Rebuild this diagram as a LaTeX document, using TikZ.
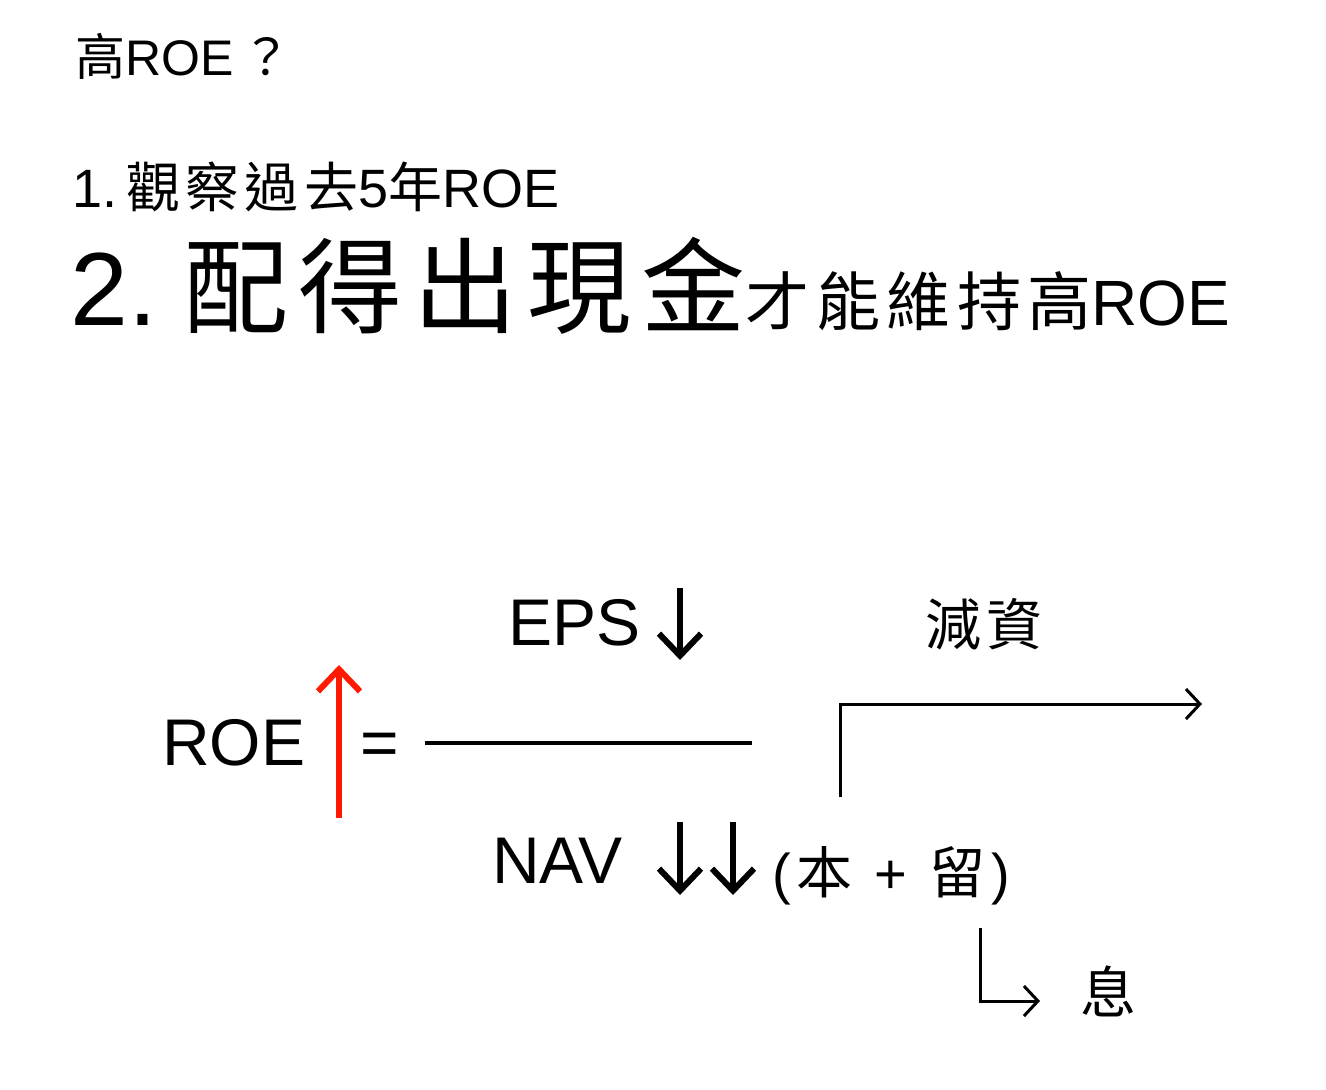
\documentclass[tikz,border=0pt]{standalone}
\usepackage{fontspec}
\setmainfont{Liberation Sans}
\newfontfamily\cjk{Noto Sans CJK TC}
\newfontfamily\cjkw{Noto Sans CJK TC}[LetterSpace=10]
\usetikzlibrary{arrows.meta}
\begin{document}
\begin{tikzpicture}[x=1pt,y=-1pt,
  txt/.style={inner sep=0pt,anchor=base west},
  arr/.style={line width=6pt,-{Straight Barb[length=22pt,width=42pt,line width=6pt]}},
  conn/.style={line width=3pt,-{Straight Barb[length=14pt,width=30pt,line width=3pt]}}]
\useasboundingbox (0,0) rectangle (1326,1090);
\node[txt] (t0) at (75,75) {\fontsize{50}{50}\selectfont{\cjk 高}ROE\,{\cjk ？}};
\node[txt] (t1) at (72,207) {\fontsize{54}{54}\selectfont 1.\,{\cjkw 觀察過去}5{\cjk 年}ROE};
\node[txt] (t2) at (70,325) {\fontsize{104}{104}\selectfont 2.\,\hspace{10pt}{\cjkw 配得出現金}\fontsize{64}{64}\selectfont{\cjkw 才能維持高}ROE};
\node[txt] (eps) at (508,645) {\fontsize{66}{66}\selectfont EPS};
\node[txt] (jz) at (925,645) {\fontsize{56}{56}\selectfont\cjkw 減資};
\node[txt] (roe) at (162,765) {\fontsize{66}{66}\selectfont ROE};
\node[txt] (eq) at (360,765) {\fontsize{66}{66}\selectfont =};
\node[txt] (nav) at (492,883) {\fontsize{66}{66}\selectfont NAV};
\node[txt] (bl) at (772,893) {\fontsize{56}{56}\selectfont (\hspace*{6pt}{\cjk 本}\hspace*{22pt}+\hspace*{22pt}{\cjk 留}\hspace*{6pt})};
\node[txt] (xi) at (1080,1013) {\fontsize{56}{56}\selectfont\cjk 息};
\coordinate (a1s) at (680,588); \coordinate (a1e) at (680,660);
\draw[arr] (a1s) -- (a1e);
\coordinate (r1) at (339,818); \coordinate (r2) at (339,665);
\draw[arr,draw=red!80!orange] (r1) -- (r2);
\coordinate (f1) at (425,743); \coordinate (f2) at (752,743);
\draw[line width=3.5pt] (f1) -- (f2);
\coordinate (c1) at (840,797); \coordinate (c2) at (840,704); \coordinate (c3) at (1202,704);
\draw[conn] (c1) -- (c2) -- (c3);
\coordinate (n1) at (680,822); \coordinate (n2) at (680,895);
\coordinate (n3) at (733,822); \coordinate (n4) at (733,895);
\draw[arr] (n1) -- (n2); \draw[arr] (n3) -- (n4);
\coordinate (s1) at (980,928); \coordinate (s2) at (980,1001); \coordinate (s3) at (1040,1001);
\draw[conn] (s1) -- (s2) -- (s3);
\end{tikzpicture}
\end{document}
